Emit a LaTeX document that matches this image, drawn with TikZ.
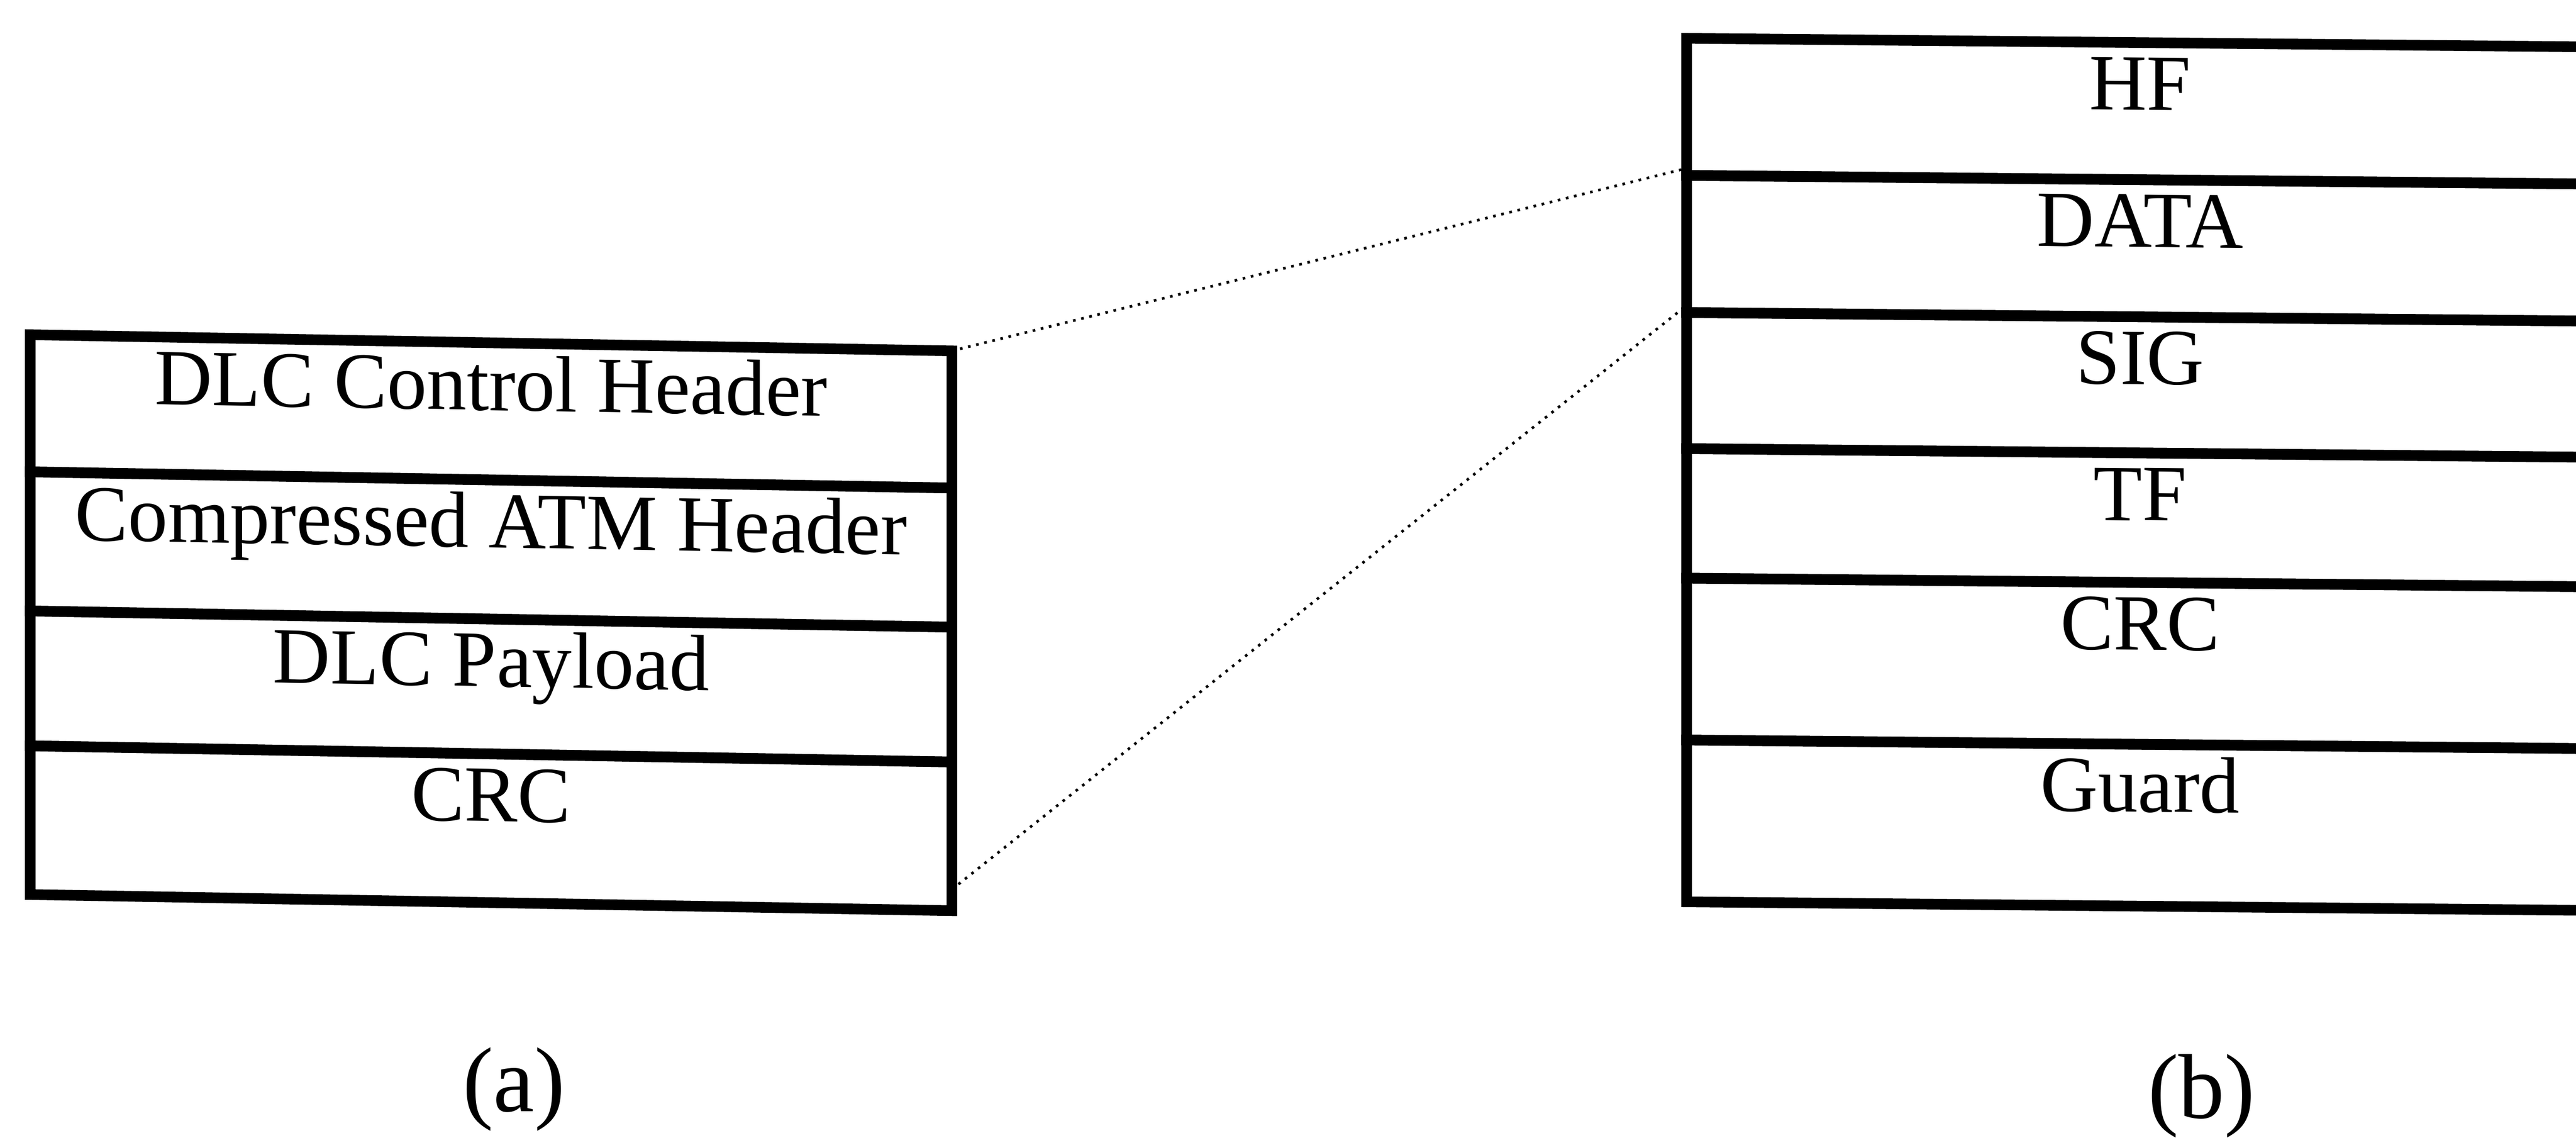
\documentclass[tikz,border=0pt]{standalone}
\usepackage{fontspec}
\setmainfont{Liberation Serif}
\usetikzlibrary{positioning}
\begin{document}
\begin{tikzpicture}[
			node distance=0pt,
			field/.style={draw, line width=3pt, inner sep=0pt, outer sep=0pt, text height=0.67cm, text depth=#1, font=\fontsize{22.5}{24}\selectfont},
			cell/.style={field=#1, minimum width=9.145cm, yslant=-0.0175},
			slot/.style={field=#1, minimum width=9cm, yslant=-0.0095},
			link/.style={line width=0.75pt, dash pattern=on 0.75pt off 1.6pt},
			caption/.style={anchor=base, font=\fontsize{26}{28}\selectfont}
		]
		\useasboundingbox (0,0) rectangle (25.56,-11.285);
		% (a) DLC frame
		\node[cell=0.69cm, anchor=north] (ctl) at (4.8725,-3.4) {DLC Control Header};
		\node[cell=0.71cm, below=of ctl] (atm) {Compressed ATM Header};
		\node[cell=0.6675cm, below=of atm] (pay) {DLC Payload};
		\node[cell=0.805cm, below=of pay] (lcrc) {CRC};
		% (b) burst
		\node[slot=0.69cm, anchor=north] (hf) at (21.235,-0.4225) {HF};
		\node[slot=0.69cm, below=of hf] (data) {DATA};
		\node[slot=0.68cm, below=of data] (sig) {SIG};
		\node[slot=0.615cm, below=of sig] (tf) {TF};
		\node[slot=0.935cm, below=of tf] (rcrc) {CRC};
		\node[slot=0.935cm, below=of rcrc] (guard) {Guard};
		% mapping
		\draw[link] (ctl.north east) -- ([yshift=2pt]hf.south west);
		\draw[link] ([yshift=6pt]lcrc.south east) -- ([yshift=2pt]data.south west);
		\node[caption] (capa) at (5.1,-11.025) {(a)};
		\node[caption] (capb) at (21.845,-11.09) {(b)};
	\end{tikzpicture}
\end{document}
